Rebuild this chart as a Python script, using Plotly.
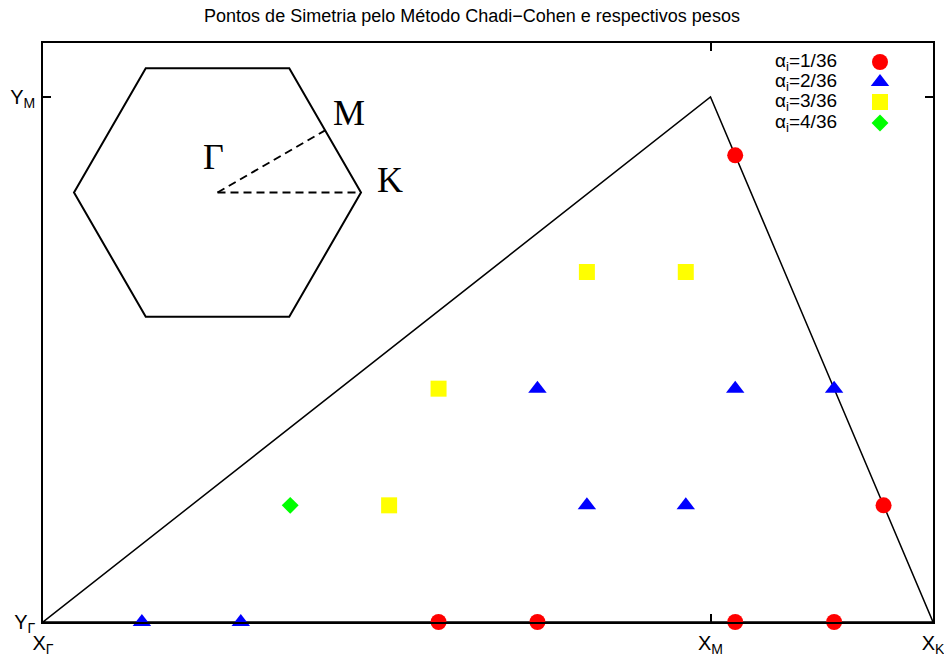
import math
import plotly.graph_objects as go

# Special points of the Chadi-Cohen set inside the irreducible wedge Γ-M-K
# (coordinates in grid steps: K at kx = 18, M at (13.5, 9))
red_x = [8, 10, 14, 16, 14, 17]
red_y = [0, 0, 0, 0, 8, 2]
blue_x = [2, 4, 11, 13, 10, 14, 16]
blue_y = [0, 0, 2, 2, 4, 4, 4]
yellow_x = [7, 8, 11, 13]
yellow_y = [2, 4, 6, 6]
green_x = [5]
green_y = [2]

weight_labels = ["α<sub>i</sub>=1/36", "α<sub>i</sub>=2/36",
                 "α<sub>i</sub>=3/36", "α<sub>i</sub>=4/36"]

# boundary of the irreducible wedge Γ -> M -> K -> Γ
wedge_x = [0, 13.5, 18, 0]
wedge_y = [0, 9, 0, 0]

x_ticks = [0, 13.5, 18]
x_ticktext = ["X<sub>Γ</sub>", "X<sub>M</sub>", "X<sub>K</sub>"]
y_ticks = [0, 9]
y_ticktext = ["Y<sub>Γ</sub>", "Y<sub>M</sub>"]

W, H = 944, 657
L, R, T, B = 43, 11, 43, 35
PW, PH = W - L - R, H - T - B


def px(x):
    return (x - L) / PW


def py(y):
    return (H - B - y) / PH


series = [
    (red_x, red_y, "circle", "#ff0000", 16),
    (blue_x, blue_y, "triangle-up", "#0000ff", 16),
    (yellow_x, yellow_y, "square", "#ffff00", 16),
    (green_x, green_y, "diamond", "#00ff00", 13),
]

fig = go.Figure()
fig.add_trace(go.Scatter(x=wedge_x, y=wedge_y, mode="lines",
                         line=dict(color="black", width=1.5),
                         hoverinfo="skip", showlegend=False))
for xs, ys, sym, col, sz in series:
    fig.add_trace(go.Scatter(x=xs, y=ys, mode="markers", cliponaxis=False,
                             marker=dict(symbol=sym, color=col, size=sz,
                                         line=dict(width=0)),
                             showlegend=False))

# key: text on the left, symbol on the right
key_rows = [62, 82, 102, 123]
for (xs, ys, sym, col, sz), lab, yr in zip(series, weight_labels, key_rows):
    fig.add_trace(go.Scatter(x=[px(880)], y=[py(yr)], mode="markers",
                             xaxis="x2", yaxis="y2", cliponaxis=False,
                             marker=dict(symbol=sym, color=col, size=sz,
                                         line=dict(width=0)),
                             showlegend=False, hoverinfo="skip"))
    fig.add_annotation(x=px(839), y=py(yr), xref="paper", yref="paper",
                       text=lab, showarrow=False, xanchor="right",
                       yanchor="middle",
                       font=dict(family="Liberation Sans", size=19,
                                 color="black"))

# inset: hexagonal Brillouin zone with Γ, M, K
cx, cy, rad = 217.5, 192.5, 143.5
hex_pts = [(cx + rad * math.cos(math.radians(a)),
            cy - rad * math.sin(math.radians(a))) for a in range(0, 361, 60)]
path = "M " + " L ".join(f"{px(x):.5f},{py(y):.5f}" for x, y in hex_pts) + " Z"
fig.add_shape(type="path", path=path, xref="paper", yref="paper",
              line=dict(color="black", width=2))
kx, ky = hex_pts[0]
mx = (hex_pts[0][0] + hex_pts[1][0]) / 2
my = (hex_pts[0][1] + hex_pts[1][1]) / 2
for ex, ey in [(kx, ky), (mx, my)]:
    fig.add_shape(type="line", xref="paper", yref="paper",
                  x0=px(cx), y0=py(cy), x1=px(ex), y1=py(ey),
                  line=dict(color="black", width=2, dash="8px,5px"))
for lab, lx, ly in [("Γ", 213, 157), ("M", 349, 113), ("K", 390, 180)]:
    fig.add_annotation(x=px(lx), y=py(ly), xref="paper", yref="paper",
                       text=lab, showarrow=False, xanchor="center",
                       yanchor="middle",
                       font=dict(family="Liberation Serif", size=36,
                                 color="black"))

axis_common = dict(showgrid=False, zeroline=False, showline=True,
                   linecolor="black", linewidth=1.5, mirror="ticks",
                   ticks="inside", ticklen=8, tickwidth=1.5,
                   tickcolor="black", automargin=False,
                   ticklabeloverflow="allow",
                   tickfont=dict(family="Liberation Sans", size=20,
                                 color="black"))

fig.update_layout(
    width=W, height=H,
    margin=dict(l=L, r=R, t=T, b=B),
    paper_bgcolor="white", plot_bgcolor="white",
    title=dict(text="Pontos de Simetria pelo Método Chadi−Cohen e respectivos pesos",
               x=px(488), xanchor="center", y=1 - 16 / H, yanchor="middle",
               yref="container",
               font=dict(family="Liberation Sans", size=18, color="black")),
    xaxis=dict(range=[0, 18], tickvals=x_ticks, ticktext=x_ticktext,
               ticklabelstandoff=2, **axis_common),
    yaxis=dict(range=[0, 9 * 579 / 525], tickvals=y_ticks,
               ticktext=y_ticktext, ticklabelstandoff=2, **axis_common),
    xaxis2=dict(range=[0, 1], overlaying="x", visible=False),
    yaxis2=dict(range=[0, 1], overlaying="y", visible=False),
    showlegend=False,
)

fig.write_html("out.html")
